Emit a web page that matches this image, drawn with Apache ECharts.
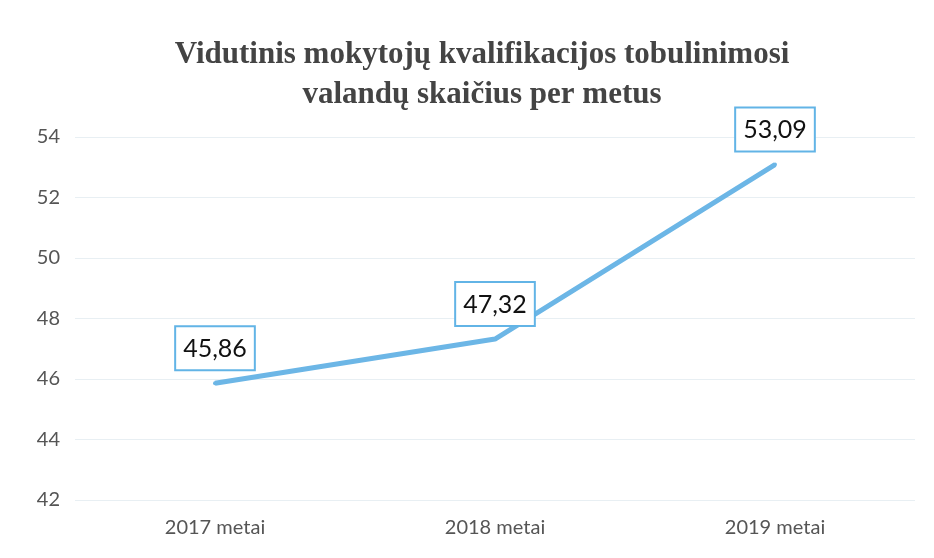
<!DOCTYPE html>
<html>
<head>
<meta charset="utf-8">
<script src="https://cdn.jsdelivr.net/npm/echarts@6/dist/echarts.min.js"></script>
<style>
  html, body { margin: 0; padding: 0; background: #fff; }
  #div-chart { width: 934px; height: 558px; }
</style>
</head>
<body>
<div id="div-chart"></div>
<script>
var years = ['2017 metai', '2018 metai', '2019 metai'];
var hours = [45.86, 47.32, 53.09];

var myChart = echarts.init(document.getElementById('div-chart'));

var option = {
    backgroundColor: '#fff',
    title: {
        text: 'Vidutinis mokytojų kvalifikacijos tobulinimosi\nvalandų skaičius per metus',
        left: 477,
        textAlign: 'center',
        top: 30,
        textStyle: {
            fontFamily: 'Liberation Serif',
            fontWeight: 'bold',
            fontSize: 31,
            lineHeight: 40,
            color: '#444'
        }
    },
    grid: {left: 75, right: 19, top: 137, bottom: 58},
    xAxis: {
        type: 'category',
        data: years,
        boundaryGap: true,
        axisLine: {show: false},
        axisTick: {show: false},
        axisLabel: {
            margin: 18,
            fontFamily: 'Lato',
            fontSize: 20,
            color: '#555'
        }
    },
    yAxis: {
        type: 'value',
        min: 42,
        max: 54,
        interval: 2,
        axisLabel: {
            margin: 15,
            fontFamily: 'Lato',
            fontSize: 20,
            color: '#555'
        },
        splitLine: {lineStyle: {color: '#e8eff3', width: 1}}
    },
    series: [
        {
            type: 'line',
            data: hours,
            symbol: 'circle',
            symbolSize: 4,
            showSymbol: true,
            itemStyle: {color: '#6cb6e6'},
            lineStyle: {color: '#6cb6e6', width: 5},
            label: {
                show: true,
                position: 'top',
                distance: 12,
                formatter: function (p) {
                    return p.value.toFixed(2).replace('.', ',');
                },
                fontFamily: 'Lato',
                fontSize: 25,
                color: '#111',
                backgroundColor: '#fff',
                borderColor: '#62b4e6',
                borderWidth: 2,
                padding: [9, 7, 8, 7]
            }
        }
    ]
};

myChart.setOption(option);
</script>
</body>
</html>
